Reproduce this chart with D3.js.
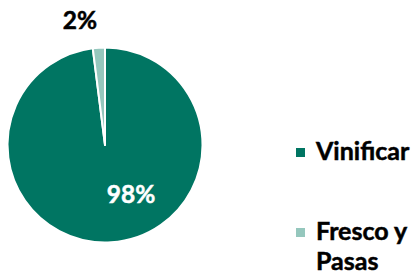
<!DOCTYPE html>
<html><head><meta charset="utf-8">
<script src="https://cdn.jsdelivr.net/npm/d3@7"></script>
<style>html,body{margin:0;padding:0;background:#fff;}svg{display:block;}</style>
</head><body>
<svg id="chart" width="414" height="279"></svg>
<script>
const categories = ["Vinificar", "Fresco y Pasas"];
const legendLines = [["Vinificar"], ["Fresco y", "Pasas"]];
const values = [98, 2];
const labels = ["98%", "2%"];
const colors = ["#007562", "#95c7bd"];

const svg = d3.select("#chart");
const cx = 105, cy = 145, r = 97.5;
const font = "Lato, 'Open Sans', sans-serif";

const pie = d3.pie().sort(null).value(d => d)(values);
const arc = d3.arc().innerRadius(0).outerRadius(r);
const g = svg.append("g").attr("transform", `translate(${cx},${cy})`);
g.selectAll("path").data(pie).join("path")
  .attr("d", arc)
  .attr("fill", (d, i) => colors[i])
  .attr("stroke", "#fff").attr("stroke-width", 2).attr("stroke-linejoin", "round");

// labels
const labelPos = [[26, 58], [-25, -116]];
const labelColor = ["#fff", "#000"];
g.selectAll("text.lbl").data(pie).join("text").attr("class", "lbl")
  .attr("x", (d, i) => labelPos[i][0]).attr("y", (d, i) => labelPos[i][1])
  .attr("text-anchor", "middle")
  .attr("font-family", font).attr("font-weight", "bold").attr("font-size", 24.5)
  .attr("fill", (d, i) => labelColor[i])
  .attr("stroke", (d, i) => labelColor[i]).attr("stroke-width", 0.5)
  .text((d, i) => labels[i]);

// legend
const legY = [160, 240];
const lg = svg.append("g");
categories.forEach((c, i) => {
  lg.append("rect").attr("x", 296).attr("y", legY[i] - 12).attr("width", 9).attr("height", 9).attr("fill", colors[i]);
  const t = lg.append("text").attr("x", 316).attr("y", legY[i])
    .attr("font-family", font).attr("font-weight", "bold").attr("font-size", 25)
    .attr("fill", "#000").attr("stroke", "#000").attr("stroke-width", 0.5);
  legendLines[i].forEach((ln, j) => {
    t.append("tspan").attr("x", 316).attr("dy", j === 0 ? 0 : 30).text(ln);
  });
});
</script>
</body></html>
